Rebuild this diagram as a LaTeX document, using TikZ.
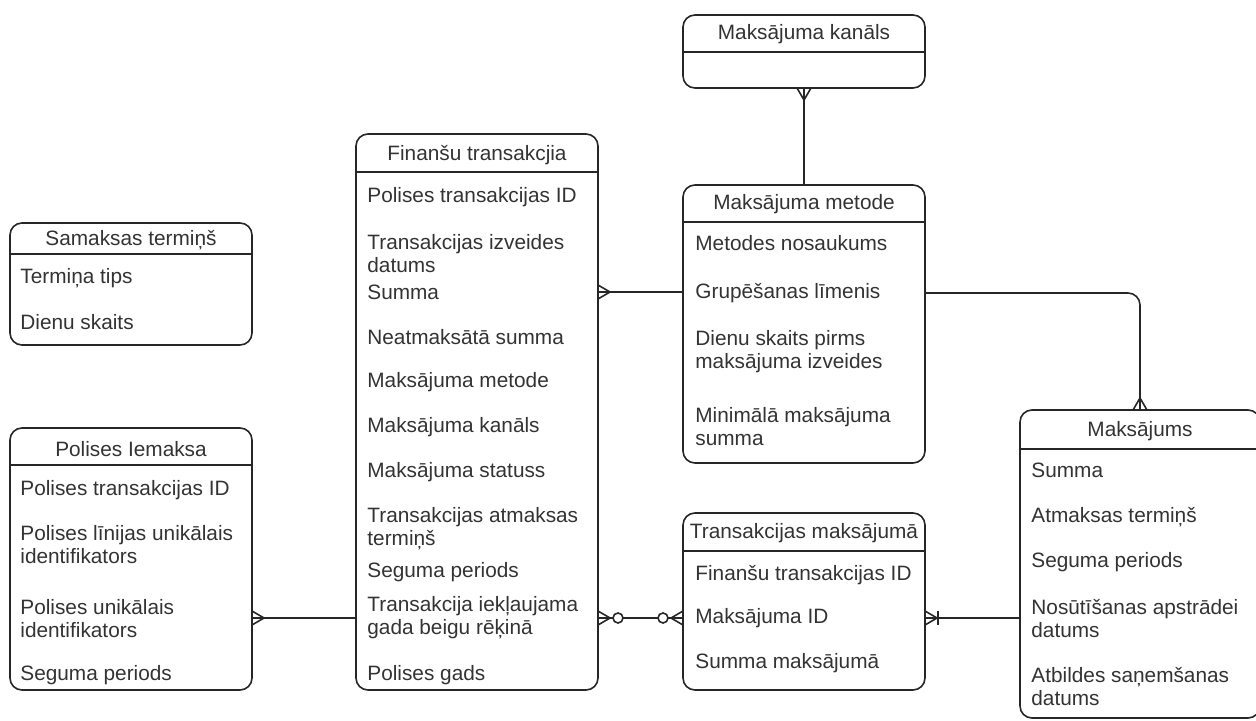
\documentclass[tikz,border=0pt]{standalone}
\usepackage{fontspec}
\setmainfont{Liberation Sans}
\colorlet{cline}{black!85}
\colorlet{ctext}{black!80}

\begin{document}
\begin{tikzpicture}[
  x=0.5pt, y=-0.5pt,
  font=\fontsize{10.4}{11.5}\selectfont,
  ent/.style 2 args={draw=cline, line width=0.8pt, rounded corners=6pt, anchor=north west,
                     minimum width=#1*0.5pt, minimum height=#2*0.5pt, inner sep=0pt, outer sep=0pt},
  ttl/.style={text=ctext, inner sep=0pt},
  attr/.style={text=ctext, anchor=west, align=left, inner sep=0pt},
  rel/.style={draw=cline, line width=0.8pt},
  many/.pic={\draw[rel] (0,-7) -- (12,0) -- (0,7);},
  zero/.pic={\draw[rel, fill=white] (20,0) circle (5);},
  one/.pic={\draw[rel] (13,-7) -- (13,7);},
]
\useasboundingbox (0,0) rectangle (1256,721);

% ------------------------------------------------------------ Samaksas termiņš
\node[ent={242}{122}] (sam) at (10,223) {};
\node[ttl] (samttl) at (131,240) {Samaksas termiņš};
\draw[rel] (sam.north west) ++(0,31) -- ++(242,0);
\node[attr] (samtype) at (20,278) {Termiņa tips};
\node[attr] (samdays) at (20,322) {Dienu skaits};

% ------------------------------------------------------------ Polises Iemaksa
\node[ent={242}{262}] (pol) at (10,428) {};
\node[ttl] (polttl) at (131,449) {Polises Iemaksa};
\draw[rel] (pol.north west) ++(0,37) -- ++(242,0);
\node[attr] (polid) at (20,490) {Polises transakcijas ID};
\node[attr] (polline) at (20,545) {Polises līnijas unikālais\\identifikators};
\node[attr] (poluniq) at (20,619) {Polises unikālais\\identifikators};
\node[attr] (polper) at (20,675) {Seguma periods};

% ------------------------------------------------------------ Finanšu transakcija
\node[ent={242}{556}] (fin) at (356,134) {};
\node[ttl] (finttl) at (477,155) {Finanšu transakcjia};
\draw[rel] (fin.north west) ++(0,38) -- ++(242,0);
\node[attr] (finid) at (367,197) {Polises transakcijas ID};
\node[attr] (findate) at (367,254) {Transakcijas izveides\\datums};
\node[attr] (finsum) at (367,292) {Summa};
\node[attr] (finrest) at (367,337) {Neatmaksātā summa};
\node[attr] (finmet) at (367,382) {Maksājuma metode};
\node[attr] (finkan) at (367,427) {Maksājuma kanāls};
\node[attr] (finstat) at (367,472) {Maksājuma statuss};
\node[attr] (finterm) at (367,529) {Transakcijas atmaksas\\termiņš};
\node[attr] (finper) at (367,572) {Seguma periods};
\node[attr] (fininc) at (367,618) {Transakcija iekļaujama\\gada beigu rēķinā};
\node[attr] (finyear) at (367,675) {Polises gads};

% ------------------------------------------------------------ Maksājuma kanāls
\node[ent={242}{73}] (kan) at (683,15) {};
\node[ttl] (kanttl) at (804,34) {Maksājuma kanāls};
\draw[rel] (kan.north west) ++(0,37) -- ++(242,0);

% ------------------------------------------------------------ Maksājuma metode
\node[ent={242}{278}] (met) at (683,185) {};
\node[ttl] (metttl) at (804,204) {Maksājuma metode};
\draw[rel] (met.north west) ++(0,37) -- ++(242,0);
\node[attr] (metname) at (695,243) {Metodes nosaukums};
\node[attr] (metgrp) at (695,293) {Grupēšanas līmenis};
\node[attr] (metdays) at (695,352) {Dienu skaits pirms\\maksājuma izveides};
\node[attr] (metmin) at (695,427) {Minimālā maksājuma\\summa};

% ------------------------------------------------------------ Transakcijas maksājumā
\node[ent={242}{177}] (tm) at (683,513) {};
\node[ttl] (tmttl) at (804,533) {Transakcijas maksājumā};
\draw[rel] (tm.north west) ++(0,38) -- ++(242,0);
\node[attr] (tmfin) at (695,575) {Finanšu transakcijas ID};
\node[attr] (tmid) at (695,618) {Maksājuma ID};
\node[attr] (tmsum) at (695,663) {Summa maksājumā};

% ------------------------------------------------------------ Maksājums
\node[ent={240}{308}] (mks) at (1020,410) {};
\node[ttl] (mksttl) at (1140,431) {Maksājums};
\draw[rel] (mks.north west) ++(0,39) -- ++(240,0);
\node[attr] (mkssum) at (1031,470) {Summa};
\node[attr] (mksterm) at (1031,517) {Atmaksas termiņš};
\node[attr] (mksper) at (1031,562) {Seguma periods};
\node[attr] (mkssend) at (1031,619) {Nosūtīšanas apstrādei\\datums};
\node[attr] (mksans) at (1031,687) {Atbildes saņemšanas\\datums};

% ------------------------------------------------------------ relations
\draw[rel] (pol.east |- fininc) -- (fin.west |- fininc);
\pic at (pol.east |- fininc) {many};
\draw[rel] (fin.east |- finsum) -- (met.west |- finsum);
\pic at (fin.east |- finsum) {many};
% zero or many on both sides
\draw[rel] (fin.east |- tmid) -- (tm.west |- tmid);
\pic at (fin.east |- tmid) {many};
\pic at (fin.east |- tmid) {zero};
\pic[rotate=180] at (tm.west |- tmid) {many};
\pic[rotate=180] at (tm.west |- tmid) {zero};
\draw[rel] (tm.east |- tmid) -- (mks.west |- tmid);
\pic at (tm.east |- tmid) {many};
\pic at (tm.east |- tmid) {one};
\draw[rel] (kan.south) -- (met.north);
\pic[rotate=-90] at (kan.south) {many};
\draw[rel, rounded corners=6pt] (met.east |- metgrp) -| (mks.north);
\pic[rotate=90] at (mks.north) {many};
\end{tikzpicture}
\end{document}
